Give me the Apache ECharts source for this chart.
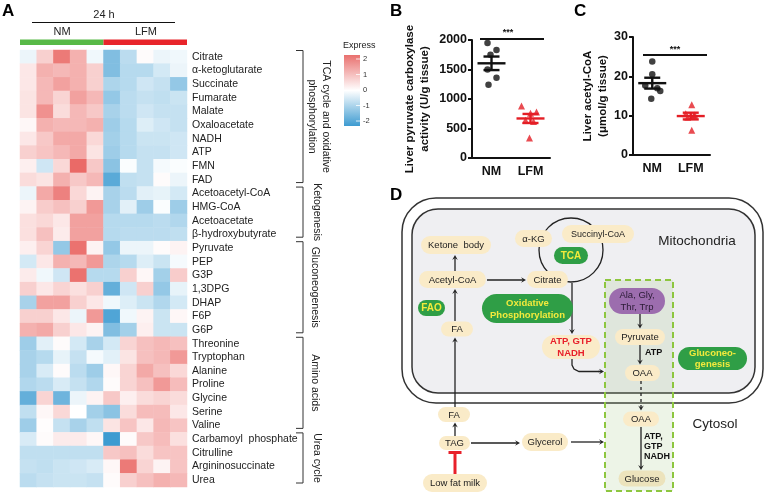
<!DOCTYPE html>
<html><head><meta charset="utf-8">
<script src="https://cdn.jsdelivr.net/npm/echarts@6/dist/echarts.min.js"></script>
<style>html,body{margin:0;padding:0;background:#fff}#c{width:767px;height:493px}</style>
</head><body><div id="c"></div>
<script>
// ---------------- DATA ----------------
const METABOLITES = ['Citrate','α-ketoglutarate','Succinate','Fumarate','Malate','Oxaloacetate','NADH','ATP','FMN','FAD',
  'Acetoacetyl-CoA','HMG-CoA','Acetoacetate','β-hydroxybutyrate',
  'Pyruvate','PEP','G3P','1,3DPG','DHAP','F6P','G6P',
  'Threonine','Tryptophan','Alanine','Proline','Glycine','Serine','Valine',
  'Carbamoyl  phosphate','Citrulline','Argininosuccinate','Urea'];
const SAMPLES = ['NM1','NM2','NM3','NM4','NM5','LFM1','LFM2','LFM3','LFM4','LFM5'];
const NM_EXPR = [
  [-0.2,0.6,1.7,1.0,-0.15],[0.3,1.0,0.9,1.0,0.6],[0.3,0.9,1.2,1.0,0.6],[0.35,0.9,0.55,1.2,0.9],
  [0.35,1.4,0.45,0.9,0.7],[0.1,1.0,0.9,0.9,1.0],[0.3,0.7,1.1,1.1,0.5],[0.6,0.75,0.9,1.1,0.35],
  [0.2,-0.5,0.5,1.9,0.7],[0.45,0.35,1.0,0.7,0.9],
  [-0.2,1.1,1.6,0.5,0.15],[0.15,0.65,0.8,0.6,1.3],[0.4,0.5,0.3,1.2,1.2],[0.4,0.8,0.25,1.2,1.2],
  [0.2,0.55,-1.1,1.8,0.15],[-0.45,0.3,1.0,0.9,1.3],[0.25,-0.15,-0.5,1.8,-0.75],[0.6,0.3,0.55,0.4,0.6],
  [-0.9,1.2,1.2,0.6,0.3],[0.6,0.6,0.3,-0.2,1.3],[1.0,1.1,0.6,0.3,0.15],
  [-1.0,-0.3,0.05,-0.45,-0.9],[-0.9,-0.75,-0.25,-0.6,-0.1],[-0.9,-0.4,0.05,-0.7,-1.0],[-0.8,-0.7,-0.4,-0.6,-0.8],
  [-1.6,0.55,-1.5,-0.2,0.15],[-0.65,0.1,0.5,0.0,-0.95],[-1.0,0.02,-0.6,-0.9,-0.65],
  [-0.4,0.05,0.25,0.25,0.1],[-0.65,-0.65,-0.65,-0.65,-0.65],[-0.6,-0.65,-0.55,-0.5,-0.4],[-0.7,-0.6,-0.55,-0.55,-0.6]
];
const LFM_EXPR = [
  [-1.3,-0.7,0.05,-0.2,-0.15],[-1.3,-0.75,-0.75,-0.45,-0.2],[-0.85,-0.75,-0.5,-0.6,-1.1],[-1.1,-0.7,-0.6,-0.65,-0.55],
  [-0.9,-0.7,-0.5,-0.6,-0.6],[-1.0,-0.75,-0.35,-0.5,-0.6],[-0.95,-0.75,-0.55,-0.55,-0.5],[-1.0,-0.75,-0.6,-0.6,-0.5],
  [-1.2,-0.05,-0.6,-0.1,-0.05],[-1.7,-0.65,-0.6,0.05,-0.2],
  [-0.9,-0.7,-0.3,-0.25,-0.45],[-0.9,-0.3,-1.0,-0.05,-1.0],[-0.75,-0.75,-0.75,-0.7,-0.8],[-0.75,-0.7,-0.7,-0.7,-0.65],
  [-1.1,-0.2,-0.2,0.05,0.15],[-0.85,-0.75,-0.35,-0.55,-0.1],[-0.75,0.6,0.1,-0.95,0.65],[-1.6,-0.5,0.6,-1.1,-0.25],
  [-0.15,-0.35,-0.55,-0.8,-0.45],[-1.8,-0.15,0.15,-0.55,0.1],[-1.3,-0.95,0.2,-0.55,-0.55],
  [-0.45,0.55,0.8,0.9,0.8],[-0.3,0.35,0.8,0.9,1.3],[0.1,0.55,1.1,0.8,0.5],[0.05,0.55,0.8,1.3,0.85],
  [0.7,0.2,0.45,0.55,0.45],[-1.2,0.45,0.85,0.85,0.3],[0.35,0.75,0.3,0.9,0.75],
  [-2.0,0.05,0.7,0.85,0.4],[0.7,0.8,0.45,0.75,0.75],[0.1,1.7,0.55,0.15,0.75],[0.05,0.6,0.8,1.0,0.9]
];
const PATHWAY_GROUPS = [
  {name:'TCA cycle and oxidative\nphosphorylation', first:0, last:9},
  {name:'Ketogenesis', first:10, last:13},
  {name:'Gluconeogenesis', first:14, last:20},
  {name:'Amino acids', first:21, last:27},
  {name:'Urea cycle', first:28, last:31}
];
const LEGEND_TICKS = ['2','1','0','-1','-2'];
const GROUP_LABELS = ['NM','LFM'];
const PC_NM  = [1950,1830,1750,1500,1360,1240];
const PC_LFM = [880,780,760,640,620,340];
const ACOA_NM  = [23.8,20.5,17.7,17.0,16.3,14.3];
const ACOA_LFM = [12.8,10.5,10.2,9.6,10.0,6.3];
const PC_AXIS = {min:0, max:2000, interval:500};
const ACOA_AXIS = {min:0, max:30, interval:10};

// ---------------- STYLE / LAYOUT ----------------
const FONT = '"Liberation Sans", Arial, sans-serif';
const RED = '#E41E25', BLACK = '#111';
const HM = {left:20, top:50, width:167, height:437};
const rowH = HM.height / METABOLITES.length;
const JIT_B = [[-4,5,-1,-4,5,-3],[-9,6,0,-5,3,-1]];
const JIT_C = [[0,0,-7,5,8,-1],[1,-5,4,-3,3,1]];

const heatData = [];
METABOLITES.forEach((m, r) => {
  NM_EXPR[r].forEach((v, c) => heatData.push([c, r, v]));
  LFM_EXPR[r].forEach((v, c) => heatData.push([c + 5, r, v]));
});
const mean = a => a.reduce((s, v) => s + v, 0) / a.length;
const sem = a => { const m = mean(a); return Math.sqrt(a.reduce((s, v) => s + (v - m) * (v - m), 0) / (a.length - 1)) / Math.sqrt(a.length); };

function meanSeries(a, b, gi) {
  return {type:'custom', xAxisIndex:gi, yAxisIndex:gi, z:5,
    encode:{x:0, y:1},
    data:[[0, mean(a), sem(a)], [1, mean(b), sem(b)]],
    renderItem(params, api) {
      const x = api.value(0), m = api.value(1), s = api.value(2);
      const c = api.coord([x, m]), t = api.coord([x, m + s]), bt = api.coord([x, m - s]);
      const col = params.dataIndex === 0 ? BLACK : RED;
      const st = {stroke:col, lineWidth:2.4};
      return {type:'group', children:[
        {type:'line', shape:{x1:c[0]-14, y1:c[1], x2:c[0]+14, y2:c[1]}, style:st},
        {type:'line', shape:{x1:c[0], y1:t[1], x2:c[0], y2:bt[1]}, style:st},
        {type:'line', shape:{x1:c[0]-8, y1:t[1], x2:c[0]+8, y2:t[1]}, style:st},
        {type:'line', shape:{x1:c[0]-8, y1:bt[1], x2:c[0]+8, y2:bt[1]}, style:st}
      ]};
    }};
}
function catAxis(gi) {
  return {type:'category', gridIndex:gi, data:GROUP_LABELS, boundaryGap:true,
    axisLine:{lineStyle:{color:BLACK, width:2}},
    axisTick:{alignWithLabel:true, length:5, lineStyle:{width:2, color:BLACK}},
    axisLabel:{fontWeight:'bold', fontSize:12.5, color:BLACK, margin:7, fontFamily:FONT}};
}
function valAxis(gi, ax, name, gap) {
  return {type:'value', gridIndex:gi, min:ax.min, max:ax.max, interval:ax.interval,
    axisLine:{show:true, lineStyle:{color:BLACK, width:2}},
    axisTick:{show:true, length:4, lineStyle:{width:2, color:BLACK}},
    splitLine:{show:false},
    axisLabel:{fontWeight:'bold', fontSize:12.5, color:BLACK, margin:5, fontFamily:FONT, formatter:v => String(v)},
    name:name, nameLocation:'middle', nameGap:gap, nameRotate:90,
    nameTextStyle:{fontWeight:'bold', fontSize:11.5, color:BLACK, lineHeight:15, fontFamily:FONT}};
}

// ---------- graphic helpers ----------
const G = [];
const txt = (x, y, text, o = {}) => G.push({type:'text', z:o.z || 10, rotation:o.rot || 0, x:x, y:y,
  style:{text:text, x:0, y:0, textAlign:o.align || 'center', textVerticalAlign:o.va || 'middle',
    fontSize:o.size || 10, fontWeight:o.weight || 'normal', fontFamily:FONT, fill:o.color || '#222', lineHeight:o.lh || undefined}});
const line = (x1, y1, x2, y2, o = {}) => G.push({type:'line', z:o.z || 8, shape:{x1, y1, x2, y2},
  style:{stroke:o.color || '#222', lineWidth:o.w || 1.3, lineDash:o.dash || null}});
function arrow(x1, y1, x2, y2, o = {}) {
  const L = 5, W = 2.8; const dx = x2 - x1, dy = y2 - y1; const d = Math.hypot(dx, dy); const ux = dx / d, uy = dy / d;
  line(x1, y1, x2 - ux * 2, y2 - uy * 2, o);
  G.push({type:'polygon', z:8, shape:{points:[[x2, y2], [x2 - ux * L - uy * W, y2 - uy * L + ux * W], [x2 - ux * L * 0.6, y2 - uy * L * 0.6], [x2 - ux * L + uy * W, y2 - uy * L - ux * W]]},
    style:{fill:o.color || '#222'}});
}
const BEIGE = '#FAEBC8', GREEN = '#2F9E46', YEL = '#F3EA3C';
function pill(cx, cy, w, h, text, o = {}) {
  G.push({type:'rect', z:9, shape:{x:cx - w / 2, y:cy - h / 2, width:w, height:h, r:h / 2}, style:{fill:o.fill || BEIGE}});
  txt(cx, cy + 0.5, text, {size:o.size || 9.5, weight:o.weight, color:o.color, lh:o.lh, z:11});
}

// ---- Panel A decorations ----
txt(2, 3, 'A', {align:'left', va:'top', size:17, weight:'bold', color:'#000'});
txt(104, 15, '24 h', {size:11});
line(32, 22.5, 175, 22.5, {w:1, color:'#111'});
txt(62, 32, 'NM', {size:11});
txt(146, 32, 'LFM', {size:11});
G.push({type:'rect', shape:{x:HM.left, y:39.5, width:HM.width / 2, height:5.5}, style:{fill:'#58B947'}});
G.push({type:'rect', shape:{x:HM.left + HM.width / 2, y:39.5, width:HM.width / 2, height:5.5}, style:{fill:'#E8252B'}});
const BX = 303;
const groupLabelX = [319, 317, 315, 315, 317];
PATHWAY_GROUPS.forEach((g, i) => {
  const y1 = HM.top + g.first * rowH + 0.5, y2 = HM.top + (g.last + 1) * rowH - 4;
  line(BX, y1, BX, y2, {w:1, color:'#333'});
  line(BX - 7, y1, BX, y1, {w:1, color:'#333'});
  line(BX - 7, y2, BX, y2, {w:1, color:'#333'});
  txt(groupLabelX[i], (y1 + y2) / 2, g.name, {size:10.5, rot:-Math.PI / 2, lh:14});
});
// legend
txt(343, 46, 'Express', {align:'left', size:9});
G.push({type:'rect', shape:{x:344, y:55, width:16, height:71}, style:{fill:{type:'linear', x:0, y:0, x2:0, y2:1,
  colorStops:[{offset:0, color:'#E9706E'}, {offset:0.5, color:'#FFFFFF'}, {offset:1, color:'#3D9BD1'}]}}});
LEGEND_TICKS.forEach((t, i) => {
  const y = 59 + i * 15.5;
  line(356, y, 360, y, {w:0.8, color:'#fff'});
  txt(363, y, t, {align:'left', size:7.5, color:'#333'});
});

// ---- Panels B / C decorations ----
txt(390, 3, 'B', {align:'left', va:'top', size:17, weight:'bold', color:'#000'});
txt(574, 3, 'C', {align:'left', va:'top', size:17, weight:'bold', color:'#000'});
line(480, 39, 544, 39, {w:2, color:BLACK});
txt(508, 33, '***', {size:9, weight:'bold', color:BLACK});
line(643, 55, 707, 55, {w:2, color:BLACK});
txt(675, 50, '***', {size:9, weight:'bold', color:BLACK});

// ---- Panel D ----
txt(390, 187, 'D', {align:'left', va:'top', size:17, weight:'bold', color:'#000'});
G.push({type:'rect', z:1, shape:{x:402, y:198, width:361, height:205, r:34}, style:{fill:'#fff', stroke:'#333', lineWidth:1.5}});
G.push({type:'rect', z:2, shape:{x:412, y:209, width:343, height:184, r:26}, style:{fill:'#EFEFF2', stroke:'#333', lineWidth:1.5}});
G.push({type:'rect', z:3, shape:{x:605, y:280, width:68, height:211}, style:{fill:'rgba(150,190,110,0.17)', stroke:'#8DC63F', lineWidth:2, lineDash:[6, 4]}});
txt(697, 241, 'Mitochondria', {size:13.5, color:'#222'});
txt(715, 424, 'Cytosol', {size:13.5, color:'#222'});
G.push({type:'circle', z:7, shape:{cx:571, cy:250, r:32}, style:{fill:'none', stroke:'#222', lineWidth:1.3}});
// arrows
arrow(455, 321, 455, 289);
arrow(455, 271, 455, 255);
arrow(487, 280, 526, 280);
arrow(572, 283, 572, 334);
G.push({type:'polyline', z:8, shape:{points:[[572, 359], [572, 365], [574, 369], [579, 371.5], [600, 371.5]]}, style:{stroke:'#222', lineWidth:1.3, fill:null}});
arrow(598, 371.5, 604, 371.5);
arrow(455, 407, 455, 337.5);
arrow(455, 436, 455, 422.5);
arrow(471, 443, 520, 443);
arrow(571, 442, 604, 442);
arrow(640, 314, 640, 328.5);
arrow(640, 345, 640, 364.5);
txt(645, 353, 'ATP', {align:'left', size:9, weight:'bold', color:'#111'});
arrow(641, 381, 641, 410.5, {dash:[3, 3]});
arrow(641, 427, 641, 470);
txt(644, 437, 'ATP,', {align:'left', size:9, weight:'bold', color:'#111'});
txt(644, 447, 'GTP', {align:'left', size:9, weight:'bold', color:'#111'});
txt(644, 457, 'NADH', {align:'left', size:9, weight:'bold', color:'#111'});
// inhibition
line(455, 474, 455, 452.5, {w:3, color:'#E8202A'});
line(448.5, 452.5, 461.5, 452.5, {w:3, color:'#E8202A'});
// pills
pill(456, 245, 70, 18, 'Ketone  body');
pill(452.5, 279.5, 67, 17, 'Acetyl-CoA');
pill(547.5, 279.5, 41, 17, 'Citrate');
pill(533.5, 238.5, 37, 17, 'α-KG');
pill(598, 234, 72, 18, 'Succinyl-CoA', {size:9});
pill(571, 255.5, 34, 17, 'TCA', {fill:GREEN, color:YEL, weight:'bold', size:10});
pill(431.5, 308, 27, 16, 'FAO', {fill:GREEN, color:YEL, weight:'bold', size:10});
pill(527.5, 308.5, 91, 29, 'Oxidative\nPhosphorylation', {fill:GREEN, color:YEL, weight:'bold', size:9.5, lh:12});
pill(457, 329, 32, 15, 'FA');
pill(571, 347, 58, 24, 'ATP, GTP\nNADH', {color:'#E8202A', weight:'bold', size:9.5, lh:11.5});
pill(637, 301, 56, 26, 'Ala, Gly,\nThr, Trp', {fill:'#9C6DAE', color:'#2A1A35', size:9.5, lh:11.5});
pill(640, 337, 50, 16, 'Pyruvate');
pill(642.5, 373, 35, 16, 'OAA');
pill(641, 419, 36, 15, 'OAA');
pill(642, 478.5, 47, 16, 'Glucose', {fill:'#ECE3BC'});
pill(712.5, 358.5, 69, 23, 'Gluconeo-\ngenesis', {fill:GREEN, color:YEL, weight:'bold', size:9.5, lh:11.5});
pill(454, 414.5, 32, 15, 'FA');
pill(454.5, 443, 31, 14, 'TAG');
pill(545, 442, 46, 18, 'Glycerol');
pill(455, 483, 64, 18, 'Low fat milk');

// ---------------- OPTION ----------------
const option = {
  animation:false,
  backgroundColor:'#fff',
  textStyle:{fontFamily:FONT},
  grid:[
    {left:HM.left, top:HM.top, width:HM.width, height:HM.height},
    {left:472, top:40, width:78, height:118},
    {left:633, top:37, width:77, height:118}
  ],
  xAxis:[
    {type:'category', gridIndex:0, data:SAMPLES, show:false},
    catAxis(1), catAxis(2)
  ],
  yAxis:[
    {type:'category', gridIndex:0, data:METABOLITES, inverse:true, position:'right',
      axisLine:{show:false}, axisTick:{show:false}, splitLine:{show:false},
      axisLabel:{margin:5, fontSize:10.5, color:'#222', fontFamily:FONT, interval:0}},
    valAxis(1, PC_AXIS, 'Liver pyruvate carboxylase\nactivity (U/g tissue)', 40),
    valAxis(2, ACOA_AXIS, 'Liver acetyl-CoA\n(μmol/g tissue)', 18)
  ],
  visualMap:{type:'continuous', show:false, min:-2, max:2, dimension:2, seriesIndex:0,
    inRange:{color:['#3D9BD1', '#FFFFFF', '#E9625F']}},
  series:[
    {type:'heatmap', xAxisIndex:0, yAxisIndex:0, data:heatData, itemStyle:{borderWidth:0}, emphasis:{disabled:true}},
    {type:'scatter', xAxisIndex:1, yAxisIndex:1, symbol:'circle', symbolSize:6.5, itemStyle:{color:BLACK}, z:3,
      data:PC_NM.map((v, i) => ({value:[GROUP_LABELS[0], v], symbolOffset:[JIT_B[0][i], 0]}))},
    {type:'scatter', xAxisIndex:1, yAxisIndex:1, symbol:'triangle', symbolSize:7, itemStyle:{color:RED}, z:3,
      data:PC_LFM.map((v, i) => ({value:[GROUP_LABELS[1], v], symbolOffset:[JIT_B[1][i], 0]}))},
    meanSeries(PC_NM, PC_LFM, 1),
    {type:'scatter', xAxisIndex:2, yAxisIndex:2, symbol:'circle', symbolSize:6.5, itemStyle:{color:BLACK}, z:3,
      data:ACOA_NM.map((v, i) => ({value:[GROUP_LABELS[0], v], symbolOffset:[JIT_C[0][i], 0]}))},
    {type:'scatter', xAxisIndex:2, yAxisIndex:2, symbol:'triangle', symbolSize:7, itemStyle:{color:RED}, z:3,
      data:ACOA_LFM.map((v, i) => ({value:[GROUP_LABELS[1], v], symbolOffset:[JIT_C[1][i], 0]}))},
    meanSeries(ACOA_NM, ACOA_LFM, 2)
  ],
  graphic:{elements:G}
};
const chart = echarts.init(document.getElementById('c'), null, {renderer:'canvas'});
chart.setOption(option);
</script></body></html>
